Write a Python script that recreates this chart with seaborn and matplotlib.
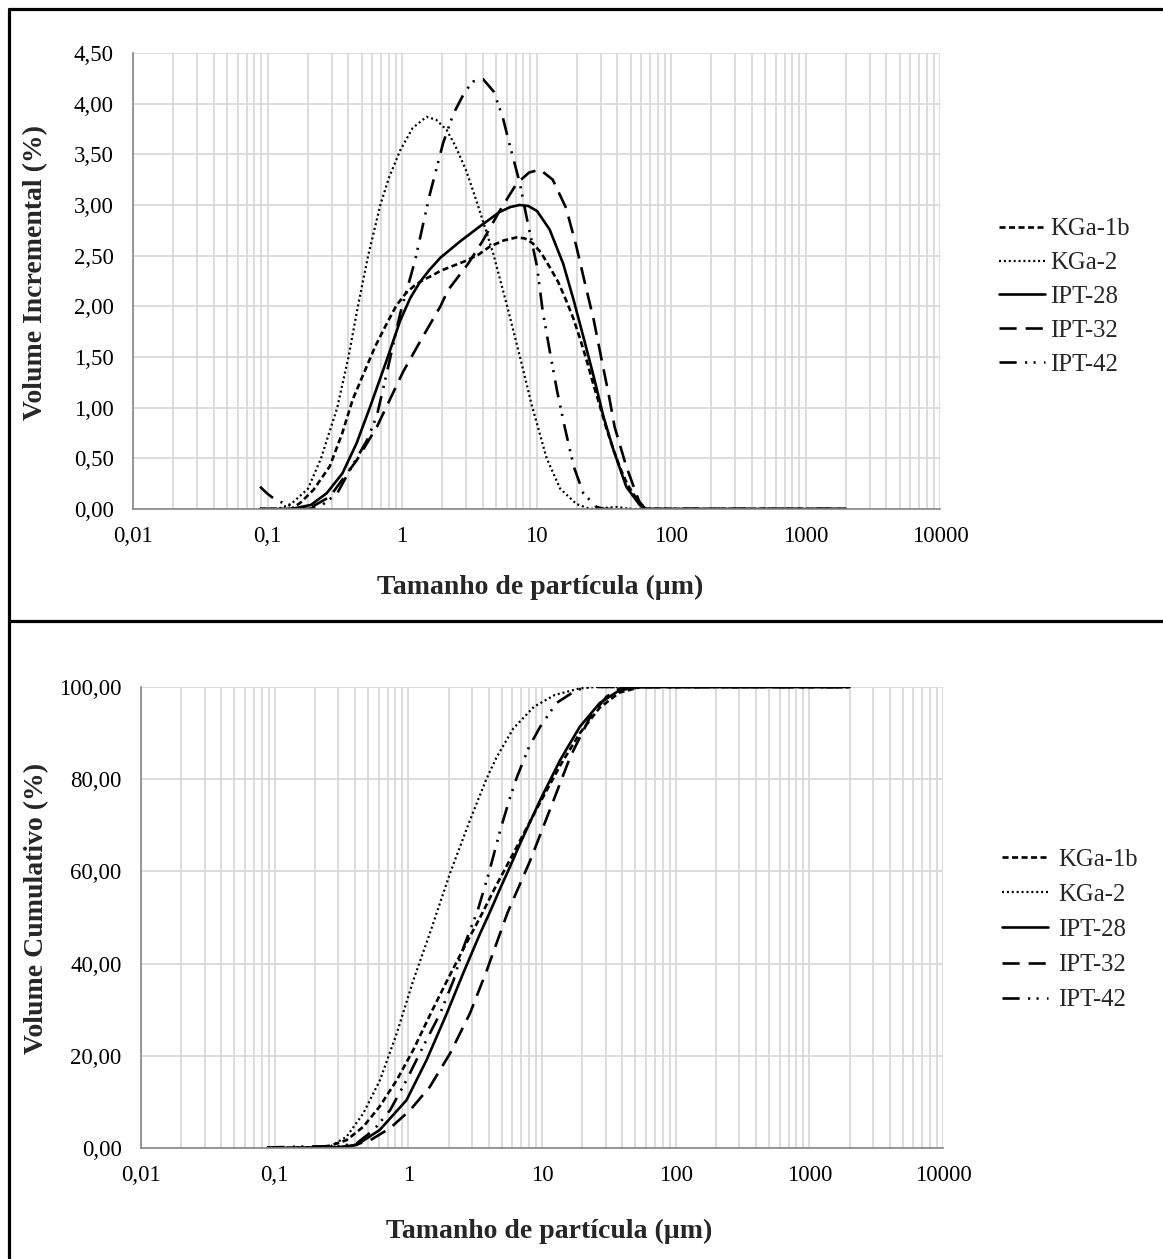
import numpy as np
import pandas as pd
import matplotlib
matplotlib.use("Agg")
import matplotlib.pyplot as plt
from matplotlib.lines import Line2D
from matplotlib.ticker import FixedLocator, NullFormatter
import seaborn as sns

# ---------------- data ----------------
series = ["KGa-1b", "KGa-2", "IPT-28", "IPT-32", "IPT-42"]

# Incremental volume (%) vs particle size (um)
inc_kga1b_x = [0.088, 0.15, 0.175, 0.22, 0.29, 0.36, 0.43, 0.52, 0.63, 0.77, 0.91, 1.07, 1.25, 1.44, 1.71, 1.93, 2.4, 3.0, 3.7, 4.5, 5.7, 7.1, 8.2, 9.4, 10.8, 12.5, 14.5, 16.6, 18.8, 21.2, 23.8, 26.6, 29.7, 33.0, 37.0, 41.7, 47.5, 55.5, 65, 2000]
inc_kga1b_y = [0.0, 0.0, 0.06, 0.19, 0.42, 0.75, 1.08, 1.34, 1.60, 1.83, 2.01, 2.13, 2.21, 2.26, 2.31, 2.35, 2.40, 2.45, 2.51, 2.59, 2.65, 2.68, 2.67, 2.62, 2.53, 2.39, 2.24, 2.06, 1.88, 1.67, 1.45, 1.22, 1.01, 0.80, 0.60, 0.41, 0.24, 0.10, 0.0, 0.0]

inc_kga2_x = [0.088, 0.12, 0.15, 0.2, 0.25, 0.33, 0.4, 0.47, 0.56, 0.69, 0.8, 0.97, 1.2, 1.52, 1.8, 2.15, 2.5, 3.0, 3.6, 4.77, 6.0, 7.54, 9.2, 11.9, 15, 19.8, 25, 40, 50, 2000]
inc_kga2_y = [0.0, 0.0, 0.05, 0.2, 0.5, 1.0, 1.5, 2.0, 2.5, 3.0, 3.27, 3.54, 3.76, 3.87, 3.84, 3.74, 3.58, 3.34, 3.03, 2.52, 2.02, 1.50, 1.03, 0.50, 0.20, 0.05, 0.0, 0.02, 0.0, 0.0]

inc_ipt28_x = [0.088, 0.15, 0.21, 0.275, 0.36, 0.46, 0.58, 0.77, 0.97, 1.15, 1.36, 1.6, 1.93, 2.7, 3.8, 5.3, 6.4, 7.5, 8.7, 10.1, 12.5, 15.8, 18.9, 22.3, 26.6, 31.5, 37.4, 46.5, 58.5, 65, 2000]
inc_ipt28_y = [0.0, 0.0, 0.04, 0.155, 0.35, 0.65, 1.01, 1.47, 1.86, 2.08, 2.24, 2.36, 2.48, 2.64, 2.79, 2.93, 2.98, 3.0, 2.99, 2.94, 2.76, 2.42, 2.06, 1.70, 1.31, 0.91, 0.58, 0.22, 0.04, 0.0, 0.0]

inc_ipt32_x = [0.088, 0.18, 0.22, 0.29, 0.36, 0.46, 0.65, 1.02, 1.4, 1.93, 2.2, 3.1, 4.0, 5.2, 7.1, 8.8, 10.6, 13.2, 16.6, 19.8, 22.9, 26.6, 30.2, 34.3, 38.1, 46.5, 58.5, 65, 2000]
inc_ipt32_y = [0.0, 0.0, 0.03, 0.12, 0.29, 0.48, 0.81, 1.355, 1.68, 2.0, 2.16, 2.42, 2.65, 2.92, 3.21, 3.32, 3.35, 3.25, 2.97, 2.59, 2.23, 1.87, 1.50, 1.14, 0.81, 0.42, 0.06, 0.0, 0.0]

inc_ipt42_x = [0.088, 0.1, 0.111, 0.13, 0.16, 0.2, 0.25, 0.33, 0.41, 0.55, 0.65, 0.77, 0.97, 1.25, 1.44, 1.62, 2.02, 2.41, 2.94, 3.4, 4.02, 4.8, 5.6, 6.3, 7.5, 8.5, 10.1, 11.1, 12.5, 14.2, 16.2, 18.9, 22.3, 27.9, 32, 2000]
inc_ipt42_y = [0.22, 0.15, 0.105, 0.06, 0.02, 0.0, 0.03, 0.155, 0.385, 0.68, 0.92, 1.34, 1.93, 2.45, 2.82, 3.12, 3.61, 3.90, 4.12, 4.22, 4.24, 4.12, 3.87, 3.60, 3.22, 2.86, 2.39, 1.96, 1.57, 1.17, 0.81, 0.42, 0.155, 0.02, 0.0, 0.0]

# Cumulative volume (%) vs particle size (um)
cum_kga1b_x = [0.088, 0.2, 0.26, 0.345, 0.46, 0.61, 0.82, 1.09, 1.46, 1.94, 2.58, 3.44, 4.5, 6.1, 9.7, 13.7, 19.2, 27, 38, 55, 2000]
cum_kga1b_y = [0.0, 0.1, 0.5, 1.7, 4.6, 9.0, 14.75, 21.3, 29.0, 36.2, 43.2, 50.0, 56.7, 63.9, 75.0, 83.0, 90.0, 95.5, 98.8, 100.0, 100.0]

cum_kga2_x = [0.088, 0.2, 0.26, 0.345, 0.46, 0.614, 0.82, 1.09, 1.45, 2.05, 2.89, 3.44, 3.86, 4.58, 6.1, 8.7, 12.5, 19.2, 25, 2000]
cum_kga2_y = [0.0, 0.1, 0.3, 2.45, 7.5, 14.75, 24.9, 36.4, 46.6, 59.6, 71.1, 76.6, 80.2, 84.8, 91.0, 95.7, 98.3, 99.7, 100.0, 100.0]

cum_ipt28_x = [0.088, 0.2, 0.3, 0.41, 0.61, 0.97, 1.37, 1.94, 2.58, 3.44, 4.08, 4.9, 5.76, 6.9, 9.7, 13.7, 19.2, 27, 38, 55, 2000]
cum_ipt28_y = [0.0, 0.05, 0.2, 0.65, 3.9, 10.4, 19.1, 29.2, 38.0, 46.5, 51.2, 56.5, 61.0, 66.2, 75.5, 84.2, 91.4, 96.5, 99.3, 100.0, 100.0]

cum_ipt32_x = [0.088, 0.25, 0.36, 0.52, 0.73, 1.03, 1.45, 2.05, 2.89, 3.86, 5.5, 8.2, 11.5, 16.3, 23, 30.4, 38, 55, 2000]
cum_ipt32_y = [0.0, 0.05, 0.3, 1.7, 4.3, 8.2, 13.3, 20.5, 29.2, 38.5, 50.9, 62.5, 73.5, 84.9, 93.6, 97.9, 99.7, 100.0, 100.0]

cum_ipt42_x = [0.088, 0.15, 0.3, 0.41, 0.55, 0.73, 0.97, 1.29, 1.73, 2.18, 2.6, 3.3, 4.0, 4.9, 5.76, 6.5, 8.0, 9.7, 12.8, 18, 22, 2000]
cum_ipt42_y = [0.1, 0.3, 0.4, 1.0, 3.9, 8.2, 14.75, 22.0, 29.2, 36.4, 43.7, 51.5, 59.6, 69.2, 76.0, 80.5, 87.0, 91.4, 96.5, 99.3, 100.0, 100.0]

inc_data = {
    "KGa-1b": (inc_kga1b_x, inc_kga1b_y),
    "KGa-2": (inc_kga2_x, inc_kga2_y),
    "IPT-28": (inc_ipt28_x, inc_ipt28_y),
    "IPT-32": (inc_ipt32_x, inc_ipt32_y),
    "IPT-42": (inc_ipt42_x, inc_ipt42_y),
}
cum_data = {
    "KGa-1b": (cum_kga1b_x, cum_kga1b_y),
    "KGa-2": (cum_kga2_x, cum_kga2_y),
    "IPT-28": (cum_ipt28_x, cum_ipt28_y),
    "IPT-32": (cum_ipt32_x, cum_ipt32_y),
    "IPT-42": (cum_ipt42_x, cum_ipt42_y),
}

x_ticks = [0.01, 0.1, 1, 10, 100, 1000, 10000]
x_tick_labels = ["0,01", "0,1", "1", "10", "100", "1000", "10000"]
inc_y_ticks = [0.0, 0.5, 1.0, 1.5, 2.0, 2.5, 3.0, 3.5, 4.0, 4.5]
inc_y_labels = ["0,00", "0,50", "1,00", "1,50", "2,00", "2,50", "3,00", "3,50", "4,00", "4,50"]
cum_y_ticks = [0, 20, 40, 60, 80, 100]
cum_y_labels = ["0,00", "20,00", "40,00", "60,00", "80,00", "100,00"]

x_label = "Tamanho de partícula (µm)"
inc_y_label = "Volume Incremental (%)"
cum_y_label = "Volume Cumulativo (%)"

# ---------------- styles ----------------
LW = 1.9
styles = {
    "KGa-1b": dict(linestyle=(0, (2.3, 1.3)), linewidth=LW),
    "KGa-2": dict(linestyle=(0, (0.9, 1.3)), linewidth=1.6),
    "IPT-28": dict(linestyle="-", linewidth=LW),
    "IPT-32": dict(linestyle=(0, (6.5, 3.4)), linewidth=LW),
    "IPT-42": dict(linestyle=(0, (6.5, 3.2, 0.8, 2.4, 0.8, 3.2)), linewidth=LW),
}

sns.set_style("white")
plt.rcParams["font.family"] = ["Liberation Serif", "DejaVu Serif"]

fig = plt.figure(figsize=(11.63, 12.59), dpi=100)
W, H = 1163, 1259

def make_axes(l, r, t, b):
    return fig.add_axes([l / W, 1 - b / H, (r - l) / W, (b - t) / H])

ax1 = make_axes(133, 940, 53, 509)
ax2 = make_axes(141, 943, 687, 1148)

grid_c = "#d9d9d9"
spine_c = "#868686"

def style_axes(ax, yticks, ylabels, ylim, ylabel, lab_xy, ylab_xy):
    ax.set_xscale("log")
    ax.set_xlim(0.01, 10000)
    ax.set_ylim(*ylim)
    ax.set_xticks(x_ticks)
    ax.set_xticklabels(x_tick_labels)
    minors = [m * 10.0 ** e for e in range(-2, 4) for m in range(2, 10)]
    ax.xaxis.set_minor_locator(FixedLocator(minors))
    ax.xaxis.set_minor_formatter(NullFormatter())
    ax.set_yticks(yticks)
    ax.set_yticklabels(ylabels)
    ax.grid(True, which="major", axis="both", color=grid_c, lw=1.3, zorder=0)
    ax.grid(True, which="minor", axis="x", color=grid_c, lw=1.3, zorder=0)
    ax.set_axisbelow(True)
    for s in ["top", "right"]:
        ax.spines[s].set_visible(False)
    for s in ["left", "bottom"]:
        ax.spines[s].set_color(spine_c)
        ax.spines[s].set_linewidth(1.2)
    ax.tick_params(axis="y", which="major", pad=9)
    ax.tick_params(axis="x", which="major", pad=7)
    ax.tick_params(axis="both", which="major", direction="out", length=5, width=1.0,
                   color=spine_c, labelsize=16.5, labelcolor="black")
    ax.tick_params(axis="x", which="minor", direction="out", length=3, width=1.0, color=spine_c)
    ax.set_xlabel(x_label, fontsize=20, fontweight="bold")
    ax.set_ylabel(ylabel, fontsize=20, fontweight="bold")
    ax.xaxis.set_label_coords(*lab_xy)
    ax.yaxis.set_label_coords(*ylab_xy)

for ax, data in [(ax1, inc_data), (ax2, cum_data)]:
    for name in series:
        xs, ys = data[name]
        sns.lineplot(x=xs, y=ys, ax=ax, color="black", label=name,
                     estimator=None, errorbar=None, sort=False, **styles[name])

style_axes(ax1, inc_y_ticks, inc_y_labels, (0, 4.5), inc_y_label, (0.504, -0.145), (-0.105, 0.519))
style_axes(ax2, cum_y_ticks, cum_y_labels, (0, 100), cum_y_label, (0.509, -0.153), (-0.115, 0.52))

ax1.legend(loc="center left", bbox_to_anchor=(1.073, 0.465), frameon=False,
           fontsize=17.8, handlelength=1.85, handletextpad=0.22, labelspacing=0.47,
           borderpad=0, borderaxespad=0)
ax2.legend(loc="center left", bbox_to_anchor=(1.074, 0.473), frameon=False,
           fontsize=17.8, handlelength=1.85, handletextpad=0.42, labelspacing=0.52,
           borderpad=0, borderaxespad=0)

# outer frame lines
bw = 2.3
fig.add_artist(Line2D([8.5 / W, 1.0], [1 - 9 / H, 1 - 9 / H], color="black", lw=bw))
fig.add_artist(Line2D([8.5 / W, 8.5 / W], [0.0, 1 - 9 / H], color="black", lw=bw))
fig.add_artist(Line2D([8.5 / W, 1.0], [1 - 621.5 / H, 1 - 621.5 / H], color="black", lw=bw))

fig.savefig("out.png", dpi=100, facecolor="white")
